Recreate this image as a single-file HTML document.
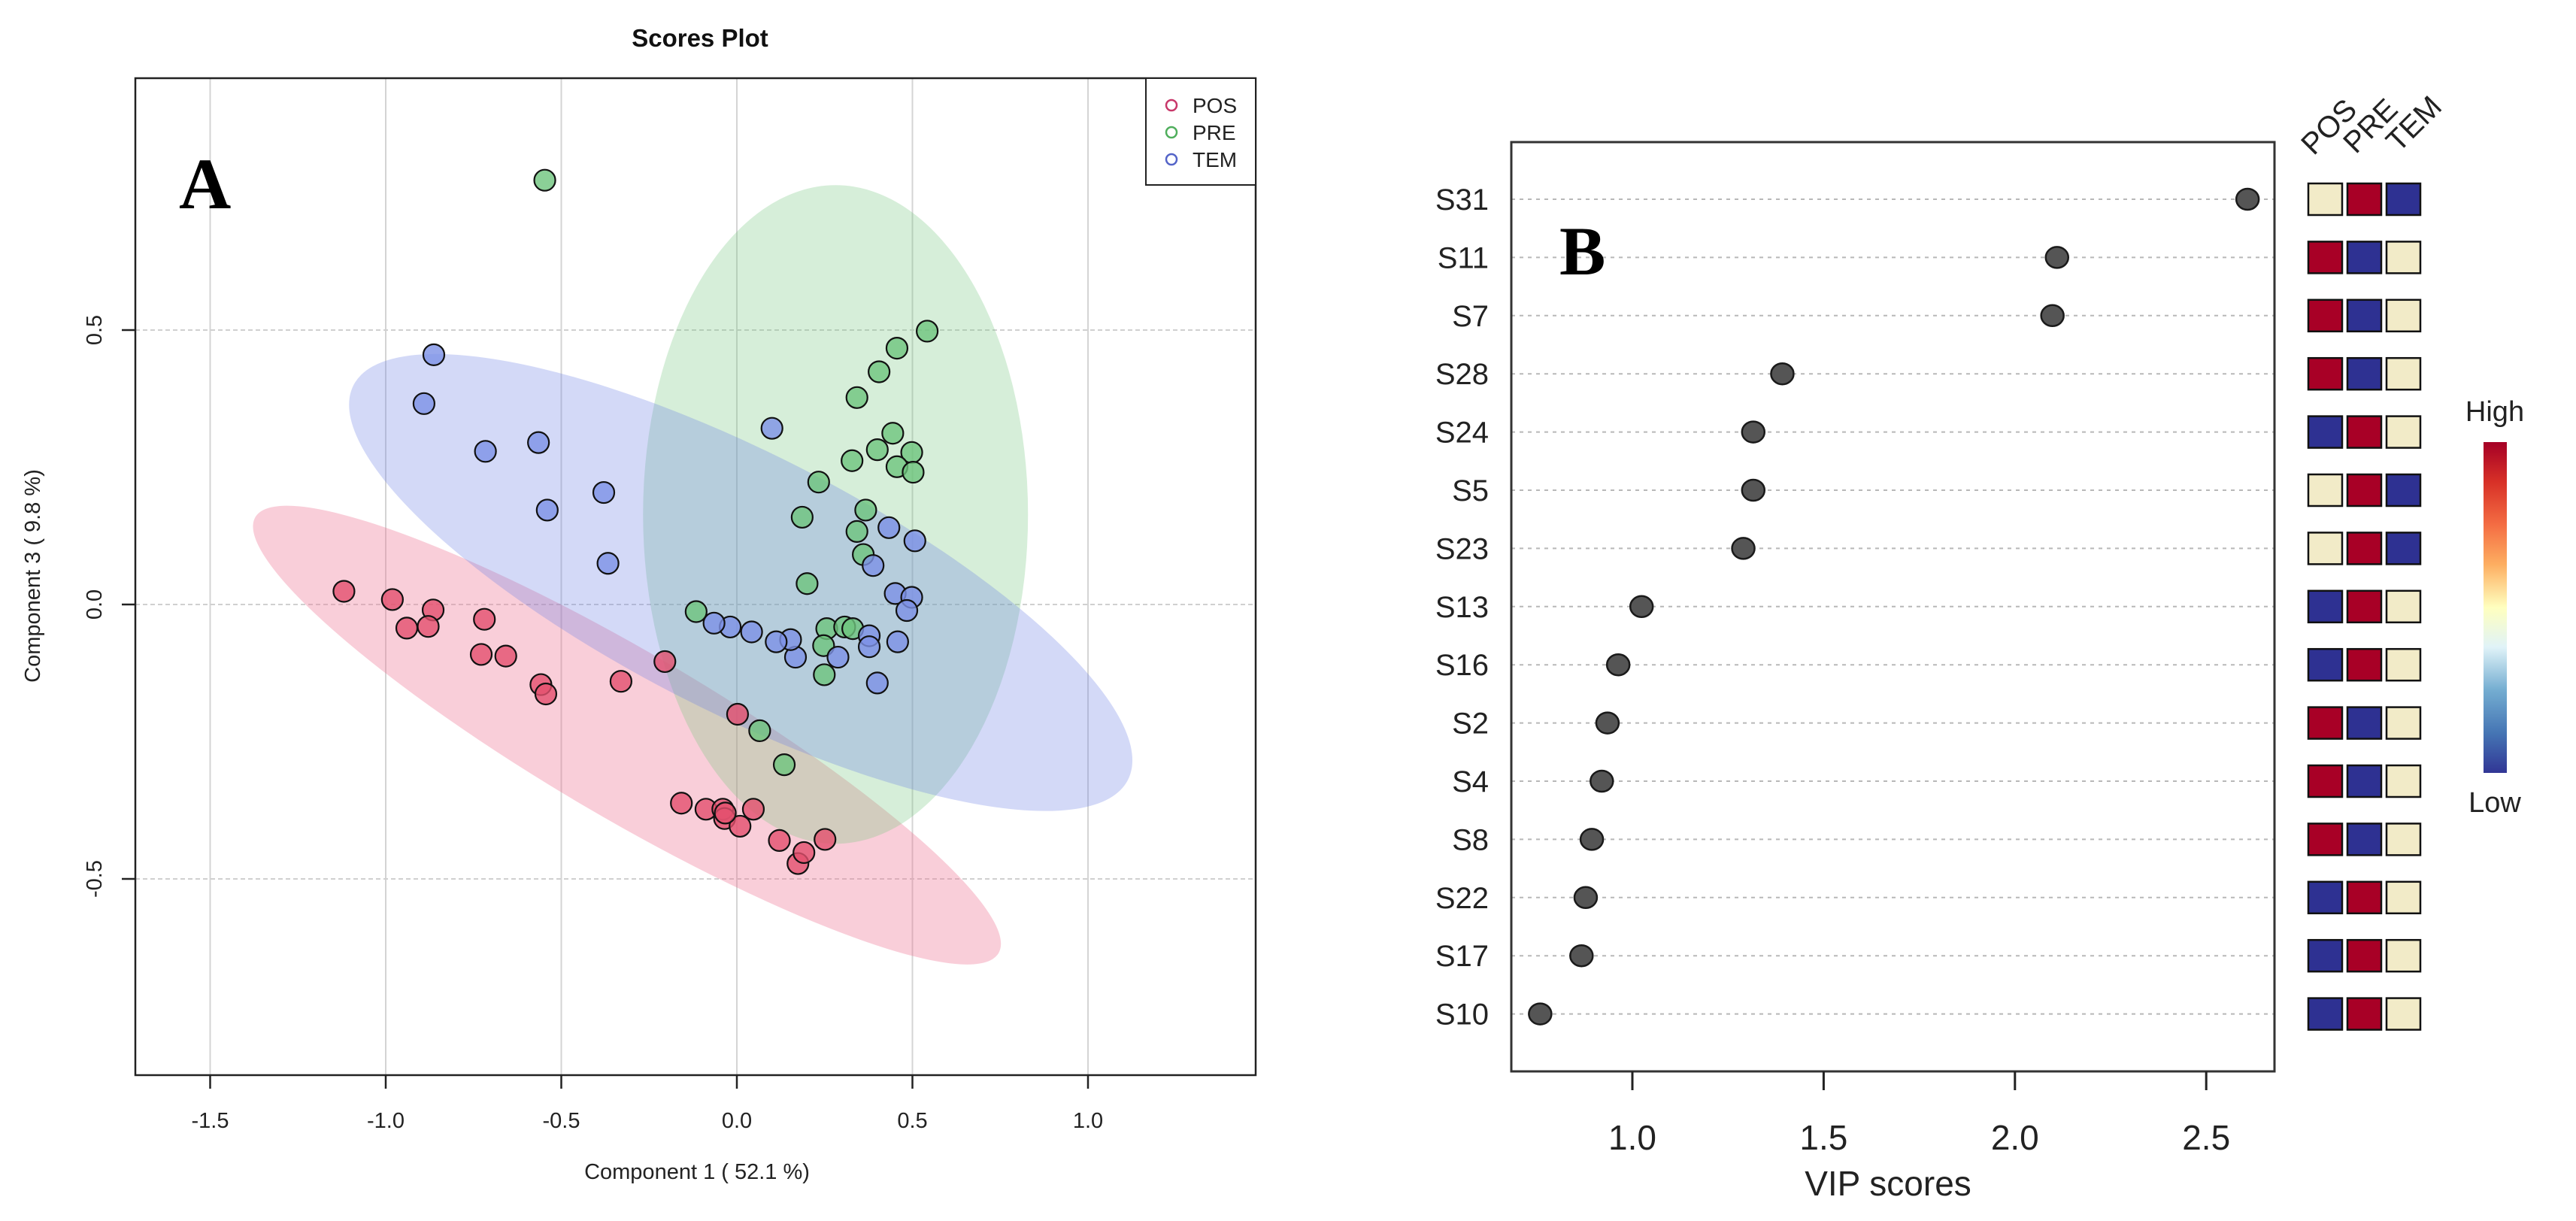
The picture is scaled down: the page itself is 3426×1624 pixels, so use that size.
<!DOCTYPE html>
<html><head><meta charset="utf-8"><style>
html,body{margin:0;padding:0;background:#fff;}
svg{display:block;font-family:"Liberation Sans",sans-serif;}
</style></head><body>
<svg id="fig" width="3426" height="1624" viewBox="0 0 3426 1624" xmlns="http://www.w3.org/2000/svg">
<defs>
<linearGradient id="rdylbu" x1="0" y1="0" x2="0" y2="1">
<stop offset="0" stop-color="#a50026"/><stop offset="0.12" stop-color="#d73027"/><stop offset="0.25" stop-color="#f46d43"/>
<stop offset="0.37" stop-color="#fdae61"/><stop offset="0.5" stop-color="#ffffbf"/><stop offset="0.62" stop-color="#e0f3f8"/>
<stop offset="0.75" stop-color="#74add1"/><stop offset="0.88" stop-color="#4575b4"/><stop offset="1" stop-color="#313695"/>
</linearGradient>
</defs>
<g id="panelA"></g>
<g id="panelB"></g>
</svg>
<script>
// ---------- Panel A data ----------
const groupNames = ["POS","PRE","TEM"];
const posX = [-1.119,-0.981,-0.865,-0.940,-0.879,-0.719,-0.728,-0.658,-0.558,-0.544,-0.330,-0.205,0.002,-0.158,-0.088,-0.040,-0.035,0.009,0.047,0.121,0.174,0.191,0.251,-0.033];
const posY = [0.024,0.009,-0.010,-0.043,-0.040,-0.027,-0.091,-0.094,-0.146,-0.163,-0.140,-0.104,-0.200,-0.362,-0.373,-0.373,-0.390,-0.404,-0.373,-0.430,-0.472,-0.452,-0.428,-0.380];
const preX = [-0.547,0.542,0.456,0.405,0.342,0.444,0.498,0.400,0.328,0.456,0.502,0.233,0.186,0.367,0.342,0.360,0.200,-0.116,0.256,0.307,0.330,0.247,0.249,0.065,0.135];
const preY = [0.773,0.498,0.467,0.424,0.377,0.312,0.277,0.282,0.262,0.251,0.241,0.223,0.159,0.172,0.133,0.091,0.038,-0.013,-0.044,-0.041,-0.044,-0.075,-0.128,-0.230,-0.292];
const temX = [-0.863,-0.891,-0.716,-0.565,-0.379,-0.540,-0.367,0.100,0.433,0.507,0.388,0.451,0.498,0.484,0.458,0.377,0.377,0.288,0.400,0.167,0.153,0.112,0.042,-0.019,-0.065];
const temY = [0.455,0.366,0.279,0.295,0.204,0.172,0.075,0.321,0.140,0.116,0.071,0.020,0.013,-0.011,-0.068,-0.057,-0.077,-0.096,-0.143,-0.096,-0.064,-0.068,-0.050,-0.041,-0.034];
const xTicksA = [-1.5,-1.0,-0.5,0.0,0.5,1.0];
const xTickLabelsA = ["-1.5","-1.0","-0.5","0.0","0.5","1.0"];
const yTicksA = [0.5,0.0,-0.5];
const yTickLabelsA = ["0.5","0.0","-0.5"];
const ellCx = [-0.313,0.281,0.011];
const ellCy = [-0.238,0.164,0.040];

// ---------- Panel B data ----------
const features = ["S31","S11","S7","S28","S24","S5","S23","S13","S16","S2","S4","S8","S22","S17","S10"];
const vipScores = [2.608,2.110,2.098,1.392,1.316,1.316,1.290,1.024,0.963,0.935,0.920,0.894,0.878,0.867,0.759];
const levPOS = [1,2,2,2,0,1,1,0,0,2,2,2,0,0,0];
const levPRE = [2,0,0,0,2,2,2,2,2,0,0,0,2,2,2];
const levTEM = [0,1,1,1,1,0,0,1,1,1,1,1,1,1,1];
const xTicksB = [1.0,1.5,2.0,2.5];
const xTickLabelsB = ["1.0","1.5","2.0","2.5"];

const NS="http://www.w3.org/2000/svg";
function mk(parent,tag,attrs,text){const e=document.createElementNS(NS,tag);for(const k in attrs)e.setAttribute(k,attrs[k]);if(text!==undefined)e.textContent=text;parent.appendChild(e);return e;}

// ===== Panel A =====
const A=document.getElementById('panelA');
const aL=180,aR=1670,aT=104,aB=1430;
const ax=v=>980+v*467;
const ay=v=>804-v*730;
let e;
e=mk(A,'text',{x:931,y:62,'text-anchor':'middle','font-size':33,'font-weight':'bold',fill:'#111'},'Scores Plot');


xTicksA.forEach((t,i)=>{
  e=mk(A,'line',{x1:ax(t),x2:ax(t),y1:aT,y2:aB,stroke:'#d4d4d4','stroke-width':2});
  
  
  e=mk(A,'line',{x1:ax(t),x2:ax(t),y1:aB,y2:aB+18,stroke:'#222','stroke-width':2.5});
  
  
  e=mk(A,'text',{x:ax(t),y:aB+70,'text-anchor':'middle','font-size':29,fill:'#222'},xTickLabelsA[i]);
  
  
});
yTicksA.forEach((t,i)=>{
  e=mk(A,'line',{x1:aL,x2:aR,y1:ay(t),y2:ay(t),stroke:'#d0d0d0','stroke-width':2,'stroke-dasharray':'6,4'});
  
  
  e=mk(A,'line',{x1:aL-18,x2:aL,y1:ay(t),y2:ay(t),stroke:'#222','stroke-width':2.5});
  
  
  e=mk(A,'text',{x:0,y:0,'text-anchor':'middle','font-size':29,fill:'#222',transform:`translate(135,${ay(t)}) rotate(-90)`},yTickLabelsA[i]);
  
  
});
const ellGeom=[{rx:573,ry:110,ang:30.4,fill:'rgb(238,120,150)',op:0.36,n:'pos-ellipse'},
               {rx:256,ry:438,ang:0,fill:'rgb(120,200,130)',op:0.3,n:'pre-ellipse'},
               {rx:578,ry:172,ang:27,fill:'rgb(110,130,230)',op:0.3,n:'tem-ellipse'}];
ellGeom.forEach((g,i)=>{
  const cx=ax(ellCx[i]),cy=ay(ellCy[i]);
  e=mk(A,'ellipse',{cx:cx,cy:cy,rx:g.rx,ry:g.ry,fill:g.fill,'fill-opacity':g.op,transform:`rotate(${g.ang} ${cx} ${cy})`});
  
  
});
const series=[[posX,posY,'rgba(228,80,110,0.8)','pos-point'],[preX,preY,'rgba(110,196,125,0.8)','pre-point'],[temX,temY,'rgba(125,145,230,0.8)','tem-point']];
series.forEach(s=>{
  s[0].forEach((x,i)=>{
    e=mk(A,'circle',{cx:ax(x),cy:ay(s[1][i]),r:14,fill:s[2],stroke:'#111','stroke-width':2.2});
    
    
  });
});
e=mk(A,'rect',{x:aL,y:aT,width:aR-aL,height:aB-aT,fill:'none',stroke:'#222','stroke-width':2.5});


e=mk(A,'rect',{x:1524,y:aT,width:aR-1524,height:142,fill:'#fff',stroke:'#222','stroke-width':2});


const legCols=['#c8386a','#4fae5c','#5464c8'];
groupNames.forEach((g,i)=>{
  const y=140+i*36;
  e=mk(A,'circle',{cx:1558,cy:y,r:7,fill:'none',stroke:legCols[i],'stroke-width':2.5});
  
  
  e=mk(A,'text',{x:1586,y:y+10,'font-size':28,fill:'#222'},g);
  
  
});
e=mk(A,'text',{x:927,y:1568,'text-anchor':'middle','font-size':29,fill:'#222'},'Component 1 ( 52.1 %)');


e=mk(A,'text',{x:0,y:0,'text-anchor':'middle','font-size':29,fill:'#222',transform:'translate(53,766) rotate(-90)'},'Component 3 ( 9.8 %)');


e=mk(A,'text',{x:238,y:277,'font-size':96,'font-weight':'bold','font-family':'Liberation Serif, serif',fill:'#000'},'A');



// ===== Panel B =====
const B=document.getElementById('panelB');
const bL=2010,bR=3025,bT=189,bB=1425;
const bx=v=>2171+(v-1.0)*508.8;
const rowY=i=>265+i*77.4;
const heatCol=['#2e3192','#f2ebc8','#a80026'];
features.forEach((f,i)=>{
  const y=rowY(i);
  e=mk(B,'line',{x1:bL,x2:bR,y1:y,y2:y,stroke:'#b8b8b8','stroke-width':2,'stroke-dasharray':'5,6'});
  
  
  e=mk(B,'text',{x:1980,y:y+14,'text-anchor':'end','font-size':40,fill:'#222'},f);
  
  
  e=mk(B,'ellipse',{cx:bx(vipScores[i]),cy:y,rx:15,ry:14,fill:'#555',stroke:'#1a1a1a','stroke-width':2.5});
  
  
  [levPOS,levPRE,levTEM].forEach((lv,j)=>{
    e=mk(B,'rect',{x:3070+j*52,y:y-21,width:45,height:42,fill:heatCol[lv[i]],stroke:'#111','stroke-width':2.5});
    
    
  });
});
e=mk(B,'rect',{x:bL,y:bT,width:bR-bL,height:bB-bT,fill:'none',stroke:'#333','stroke-width':3});


xTicksB.forEach((t,i)=>{
  e=mk(B,'line',{x1:bx(t),x2:bx(t),y1:bB,y2:bB+25,stroke:'#222','stroke-width':3});
  
  
  e=mk(B,'text',{x:bx(t),y:1529,'text-anchor':'middle','font-size':46,fill:'#222'},xTickLabelsB[i]);
  
  
});
e=mk(B,'text',{x:2511,y:1590,'text-anchor':'middle','font-size':46,fill:'#222'},'VIP scores');


const hdrX=[3077,3133,3190];
groupNames.forEach((g,j)=>{
  e=mk(B,'text',{x:0,y:0,'font-size':40,fill:'#222',transform:`translate(${hdrX[j]},${208-j*2}) rotate(-45)`},g);
  
  
});
e=mk(B,'rect',{x:3303,y:588,width:31,height:440,fill:'url(#rdylbu)'});


e=mk(B,'text',{x:3318,y:560,'text-anchor':'middle','font-size':38,fill:'#222'},'High');


e=mk(B,'text',{x:3318,y:1080,'text-anchor':'middle','font-size':38,fill:'#222'},'Low');


e=mk(B,'text',{x:2074,y:365,'font-size':92,'font-weight':'bold','font-family':'Liberation Serif, serif',fill:'#000'},'B');


</script>
</body></html>
